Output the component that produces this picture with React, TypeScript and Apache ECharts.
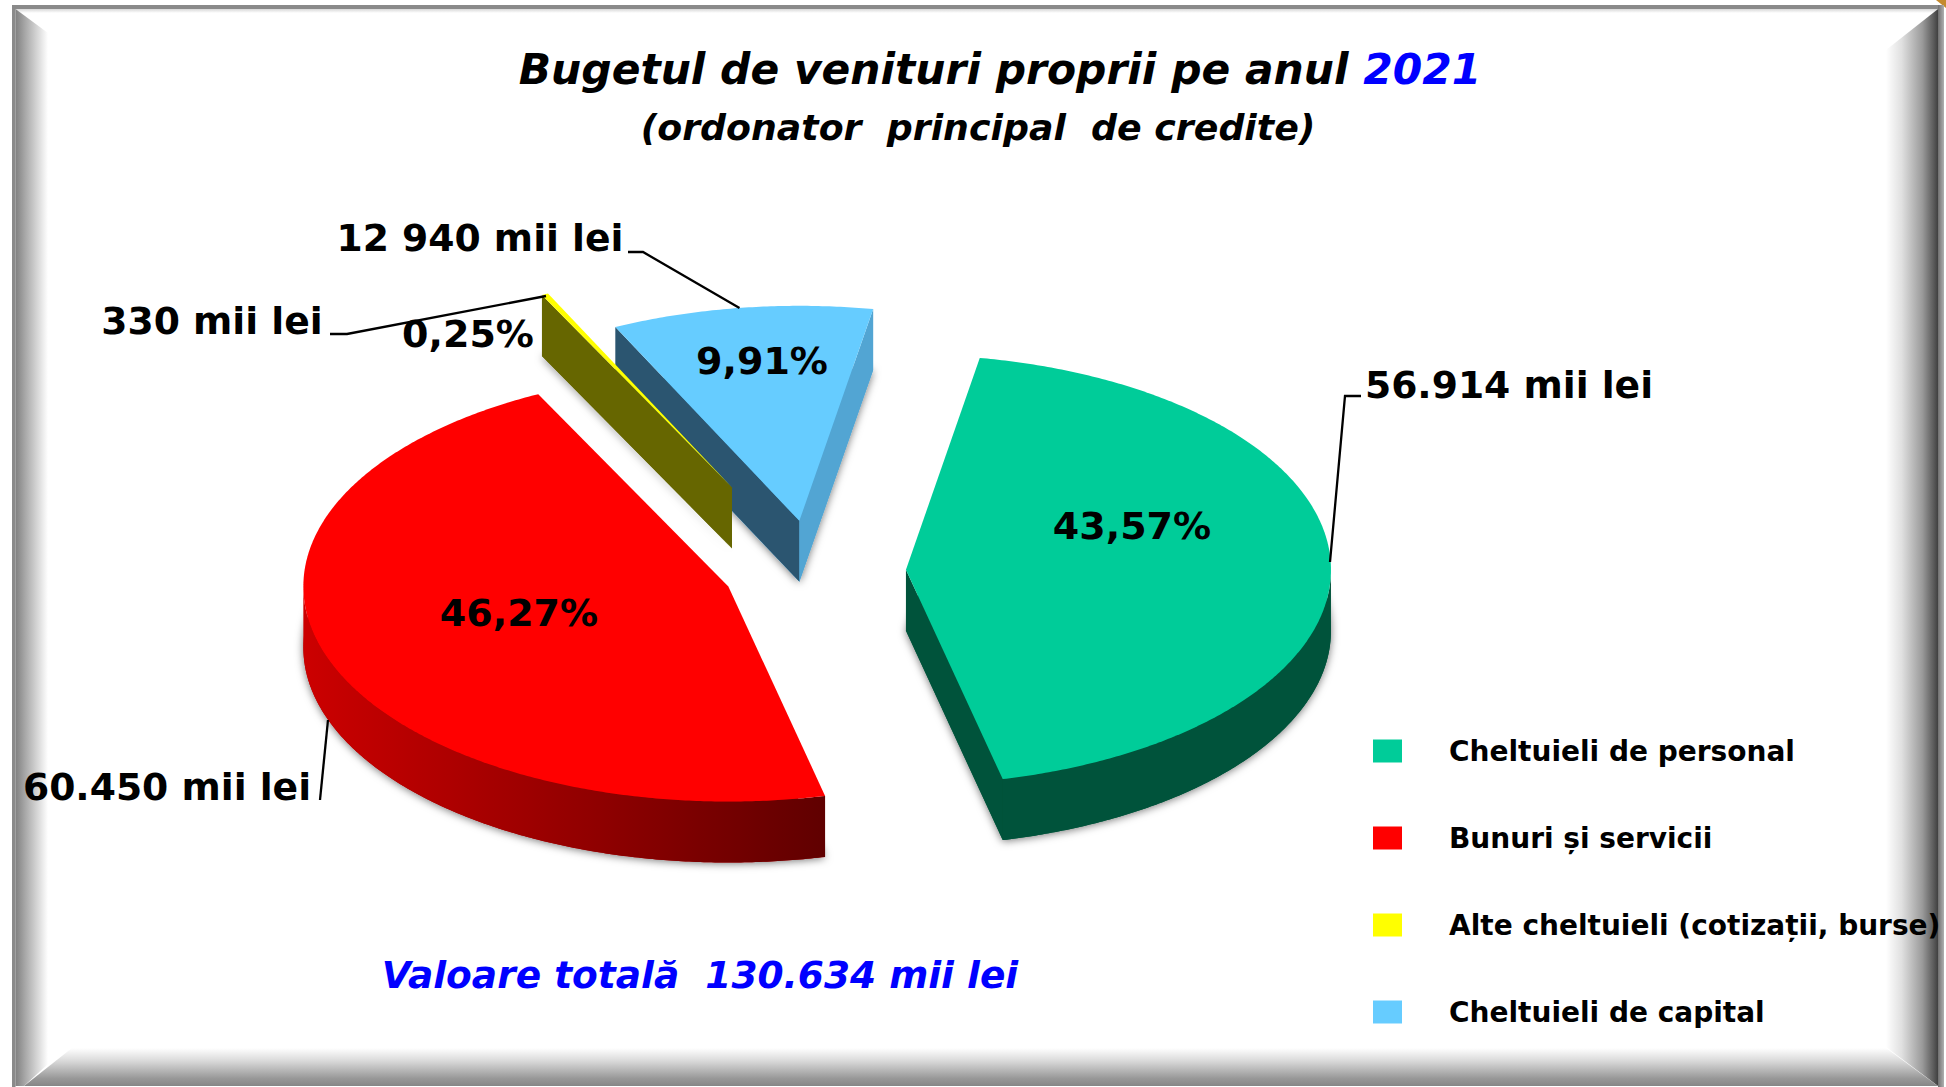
import React, { useEffect, useRef } from "react";
import * as echarts from "echarts";

const categories = ["Cheltuieli de personal", "Bunuri și servicii", "Alte cheltuieli (cotizații, burse)", "Cheltuieli de capital"];
const values = [56914, 60450, 330, 12940];
const percentLabels = ["43,57%", "46,27%", "0,25%", "9,91%"];
const amountLabels = ["56.914 mii lei", "60.450 mii lei", "330 mii lei", "12 940 mii lei"];
const topColors = ["#00CC99", "#FF0000", "#FFFF00", "#66CCFF"];
const startWallColors = ["#00533B", "#990000", "#666600", "#2B5570"];
const endWallColors = ["#00533B", "#990000", "#666600", "#52A5D3"];
const titleMain = "Bugetul de venituri proprii pe anul ";
const titleYear = "2021";
const subtitle = "(ordonator  principal  de credite)";
const totalLabel = "Valoare totală  130.634 mii lei";

const W = 1946, H = 1087;
const FONT = "'DejaVu Sans', Verdana, sans-serif";
const PIE = { cx: 813, cy: 571, a: 425, tilt: 0.506, depth: 61, start: 10 };
const EXPLODE = [93, 90, 184, 100];
const SERIES_Z = [3, 3, 5, 4];

const total = values.reduce((s, v) => s + v, 0);
const rad = (d: number) => (d * Math.PI) / 180;

function renderSlice(params: any, api: any) {
  const i = params.seriesIndex;
  const v = api.value(0);
  const before = values.slice(0, i).reduce((s, x) => s + x, 0);
  const s = PIE.start + (before / total) * 360;
  const e = s + (v / total) * 360;
  const mid = (s + e) / 2;
  const b = PIE.a * PIE.tilt;
  const ox = PIE.cx + EXPLODE[i] * Math.sin(rad(mid));
  const oy = PIE.cy - EXPLODE[i] * Math.cos(rad(mid)) * PIE.tilt;
  const rim = (t: number): [number, number] => [ox + PIE.a * Math.sin(rad(t)), oy - b * Math.cos(rad(t))];
  const arc = (from: number, to: number) => {
    const pts: [number, number][] = [];
    const n = Math.max(2, Math.ceil(Math.abs(to - from) * 2));
    for (let k = 0; k <= n; k++) pts.push(rim(from + ((to - from) * k) / n));
    return pts;
  };
  const down = (p: [number, number]): [number, number] => [p[0], p[1] + PIE.depth];
  const top = [[ox, oy] as [number, number], ...arc(s, e)];
  const children: any[] = [];
  children.push({
    type: "polygon",
    shape: { points: top.map(down) },
    style: { fill: endWallColors[i], shadowBlur: 9, shadowColor: "rgba(0,0,0,0.55)", shadowOffsetX: 0, shadowOffsetY: 1 },
  });
  const wall = (t: number, fill: string) => {
    const p = rim(t);
    children.push({
      type: "polygon",
      shape: { points: [[ox, oy], p, down(p), [ox, oy + PIE.depth]] },
      style: { fill },
    });
  };
  if (Math.sin(rad(s)) < 0) wall(s, startWallColors[i]);
  if (Math.sin(rad(e)) > 0) wall(e, endWallColors[i]);
  const rs = Math.max(s, 90), re = Math.min(e, 270);
  if (re > rs) {
    const upper = arc(rs, re);
    const fill =
      i === 1
        ? {
            type: "linear", x: 0, y: 0, x2: 1, y2: 0,
            colorStops: [
              { offset: 0, color: "#CC0000" },
              { offset: 1, color: "#600000" },
            ],
          }
        : endWallColors[i];
    children.push({
      type: "polygon",
      shape: { points: [...upper, ...upper.slice().reverse().map(down)] },
      style: { fill },
    });
  }
  children.push({ type: "polygon", shape: { points: top }, style: { fill: topColors[i] } });
  return { type: "group", children };
}

const txt = (text: string, x: number, y: number, size: number, extra: any = {}, scaleX = 1) => ({
  type: "text",
  x,
  y,
  scaleX,
  z: 20,
  silent: true,
  style: {
    text,
    fontFamily: FONT,
    fontWeight: "bold",
    fontSize: size,
    fill: "#000",
    textAlign: "center",
    textVerticalAlign: "middle",
    ...extra,
  },
});

const line = (points: number[][]) => ({
  type: "polyline",
  z: 19,
  silent: true,
  shape: { points },
  style: { stroke: "#000", lineWidth: 2.3, fill: "none" },
});

const grad = (x: number, y: number, x2: number, y2: number, stops: [number, string][]) => ({
  type: "linear", x, y, x2, y2,
  colorStops: stops.map(([offset, color]) => ({ offset, color })),
});

const poly = (points: number[][], fill: any) => ({
  type: "polygon",
  z: 0,
  silent: true,
  shape: { points },
  style: { fill },
});

const frame = [
  poly([[1936, 0], [1946, 0], [1946, 8]], "#C48A2E"),
  // top band
  poly([[12, 5], [1944, 5], [1944, 9], [12, 9]], "#8A8A8A"),
  poly([[15, 9], [1938, 9], [1936, 13], [17, 13]], grad(0, 0, 0, 1, [[0, "#D8D8D8"], [1, "#FFFFFF"]])),
  // left band
  poly([[12, 5], [15.5, 5], [15.5, 1087], [12, 1087]], "#8A8A8A"),
  poly([[15.5, 9], [48, 33], [48, 1064], [24, 1086], [15.5, 1086]], grad(0, 0, 1, 0, [[0, "#808080"], [0.3, "#A8A8A8"], [1, "#FFFFFF"]])),
  // right band
  poly([[1938, 9], [1886, 50], [1886, 1047], [1938, 1086]], grad(0, 0, 1, 0, [[0, "#FFFFFF"], [0.3, "#E0E0E0"], [0.7, "#9A9A9A"], [0.92, "#5A5A5A"], [1, "#404040"]])),
  poly([[1938, 5], [1944, 5], [1944, 1087], [1938, 1087]], grad(0, 0, 1, 0, [[0, "#707070"], [1, "#B0B0B0"]])),
  // bottom band
  poly([[24, 1086], [72, 1048], [1886, 1048], [1938, 1086]], grad(0, 0, 0, 1, [[0, "#FFFFFF"], [0.35, "#D8D8D8"], [0.8, "#989898"], [1, "#868686"]])),
];

export default function App() {
  const ref = useRef<HTMLDivElement>(null);
  useEffect(() => {
    document.body.style.margin = "0";
    const chart = echarts.init(ref.current!, undefined, { renderer: "svg" });
    chart.setOption({
      animation: false,
      backgroundColor: "#fff",
      legend: {
        data: categories,
        orient: "vertical",
        left: 1373,
        top: 737,
        padding: 0,
        icon: "rect",
        itemWidth: 29,
        itemHeight: 23,
        itemGap: 59,
        selectedMode: false,
        textStyle: { fontFamily: FONT, fontWeight: "bold", fontSize: 28, color: "#000", padding: [0, 0, 0, 42] },
      },
      series: categories.map((name, i) => ({
        type: "custom",
        name,
        coordinateSystem: "none",
        silent: true,
        z: SERIES_Z[i],
        itemStyle: { color: topColors[i] },
        renderItem: renderSlice,
        data: [[values[i]]],
      })),
      graphic: [
        ...frame,
        {
          ...txt(`${titleMain}{y|${titleYear}}`, 1000, 69, 42.4, {
            fontStyle: "italic",
            rich: { y: { fill: "#0000FF", fontFamily: FONT, fontWeight: "bold", fontStyle: "italic", fontSize: 42.4 } },
          }),
        },
        txt(subtitle, 978, 127, 36.3, { fontStyle: "italic" }),
        txt(percentLabels[0], 1132, 526, 38),
        txt(percentLabels[1], 519, 613, 38),
        txt(percentLabels[2], 468, 334, 38),
        txt(percentLabels[3], 762, 361, 38),
        txt(amountLabels[0], 1509, 385, 37.7),
        txt(amountLabels[1], 167, 787, 37.7),
        txt(amountLabels[2], 212, 321, 37.7),
        txt(amountLabels[3], 480, 238, 37.7),
        txt(totalLabel, 700, 975, 37.5, { fontStyle: "italic", fill: "#0000FF" }),
        line([[628, 252], [643, 252], [739.5, 308]]),
        line([[330, 334], [347, 334], [546, 296]]),
        line([[1361, 396], [1345, 396], [1330, 562]]),
        line([[320, 800], [328, 720]]),
      ],
    });
    return () => chart.dispose();
  }, []);
  return <div ref={ref} style={{ position: "absolute", left: 0, top: 0, width: W, height: H }} />;
}
